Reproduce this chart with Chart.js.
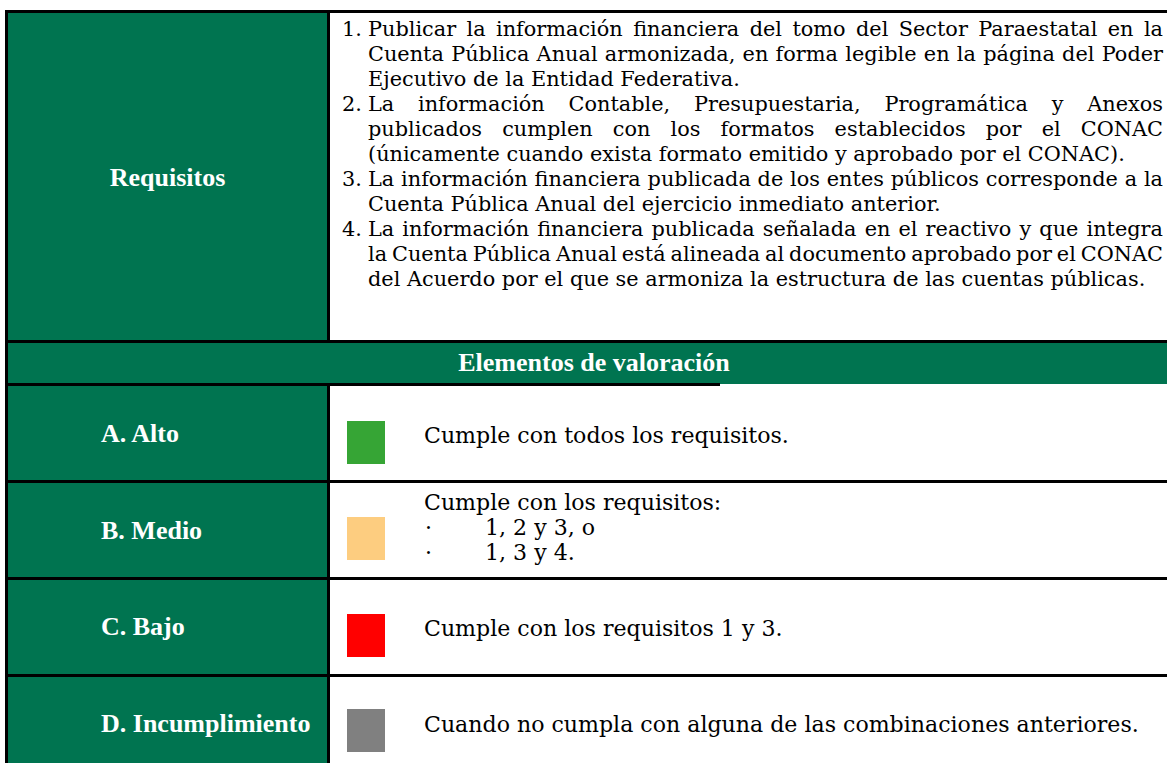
<!DOCTYPE html>
<html>
<head>
<meta charset="utf-8">
<script src="https://cdn.jsdelivr.net/npm/chart.js@4.4.0/dist/chart.umd.min.js"></script>
<style>
html,body{margin:0;padding:0;background:#fff;width:1167px;height:763px;overflow:hidden;position:relative;}
.blk{position:absolute;background:#000;}
.grn{position:absolute;background:#007450;}
.lbl{position:absolute;font-family:"Liberation Serif","Times New Roman",serif;font-weight:bold;font-size:26px;line-height:26px;color:#fff;white-space:nowrap;}
.txt{position:absolute;font-family:"DejaVu Serif",serif;color:#000;white-space:nowrap;}
canvas{position:absolute;}
</style>
</head>
<body>
<script>
// ---------------- DATA ----------------
const headerLabel = 'Requisitos';
const sectionLabel = 'Elementos de valoración';
const reqNumbers = ['1.', '2.', '3.', '4.'];
const reqLines = [
  ['Publicar la información financiera del tomo del Sector Paraestatal en la',
   'Cuenta Pública Anual armonizada, en forma legible en la página del Poder',
   'Ejecutivo de la Entidad Federativa.'],
  ['La información Contable, Presupuestaria, Programática y Anexos',
   'publicados cumplen con los formatos establecidos por el CONAC',
   '(únicamente cuando exista formato emitido y aprobado por el CONAC).'],
  ['La información financiera publicada de los entes públicos corresponde a la',
   'Cuenta Pública Anual del ejercicio inmediato anterior.'],
  ['La información financiera publicada señalada en el reactivo y que integra',
   'la Cuenta Pública Anual está alineada al documento aprobado por el CONAC',
   'del Acuerdo por el que se armoniza la estructura de las cuentas públicas.']
];
const levelLabels = ['A. Alto', 'B. Medio', 'C. Bajo', 'D. Incumplimiento'];
const levelColors = ['#36a535', '#fdcd80', '#ff0000', '#808080'];
const levelValues = [1, 1, 1, 1];
const levelIntro = ['Cumple con todos los requisitos.', 'Cumple con los requisitos:', 'Cumple con los requisitos 1 y 3.', 'Cuando no cumpla con alguna de las combinaciones anteriores.'];
const levelBullets = [[], ['1, 2 y 3, o', '1, 3 y 4.'], [], []];

// ---------------- LAYOUT ----------------
const body = document.body;
function box(cls, l, t, w, h) {
  const d = document.createElement('div');
  d.className = cls;
  d.style.left = l + 'px'; d.style.top = t + 'px';
  d.style.width = w + 'px'; d.style.height = h + 'px';
  body.appendChild(d);
  return d;
}
// font metrics (ascent, descent) as fraction of em
const MET = {lbl: [0.891, 0.216], txt: [0.928, 0.236]};
function text(cls, str, x, baseline, size, lh, opts) {
  const d = document.createElement('div');
  d.className = cls;
  d.textContent = str;
  d.style.fontSize = size + 'px';
  d.style.lineHeight = lh + 'px';
  const m = MET[cls];
  const off = (lh - (m[0] + m[1]) * size) / 2 + m[0] * size;
  d.style.top = (baseline - off) + 'px';
  d.style.left = x + 'px';
  if (opts && opts.center) { d.style.width = opts.width + 'px'; d.style.textAlign = 'center'; }
  body.appendChild(d);
  return d;
}

// fit body font size so that a reference line gets its measured width
const probe = document.createElement('span');
probe.className = 'txt';
probe.style.fontSize = '20px';
probe.style.visibility = 'hidden';
probe.textContent = reqLines[0][2];
body.appendChild(probe);
const FS = Math.min(22, 20 * 372 / probe.getBoundingClientRect().width);
probe.remove();
const FS2 = FS * 1.06;

const FULLW = 1200;
const rowTops = [386, 483, 580, 677];
const rowBots = [480, 577, 674, 763];
const baseA = [443, 510, 636.5, 732];

// green cells
box('grn', 8, 13, 319, 327);
box('grn', 8, 343, FULLW, 41);
rowTops.forEach((t, i) => box('grn', 8, t, 319, rowBots[i] - t));

// black lines
box('blk', 5, 10, FULLW, 3);
box('blk', 5, 10, 3, 760);
box('blk', 327, 13, 3, 327);
box('blk', 327, 384, 3, 380);
box('blk', 5, 340, FULLW, 3);
box('blk', 5, 383, 715, 3);
box('blk', 5, 480, FULLW, 3);
box('blk', 5, 577, FULLW, 3);
box('blk', 5, 674, FULLW, 3);

// header labels
text('lbl', headerLabel, 8, 187, 26, 26, {center: true, width: 319});
text('lbl', sectionLabel, 5, 372, 26, 26, {center: true, width: 1178});
levelLabels.forEach((s, i) => text('lbl', s, 101, [443, 540, 636, 732.5][i], 26, 26));

// requirement list
const TXT_L = 368, TXT_R = 1163;
let bl = 36.7;
const justify = [];
reqLines.forEach((lines, i) => {
  text('txt', reqNumbers[i], 342, bl, FS, 25);
  lines.forEach((ln, j) => {
    const d = text('txt', ln, TXT_L, bl, FS, 25);
    if (j < lines.length - 1) justify.push(d);
    bl += 25;
  });
});
justify.forEach(d => {
  const w = d.getBoundingClientRect().width;
  const n = (d.textContent.match(/ /g) || []).length;
  if (n > 0) d.style.wordSpacing = ((TXT_R - TXT_L - w) / n) + 'px';
});

// valuation texts
levelIntro.forEach((s, i) => {
  text('txt', s, 424, baseA[i], FS2, 25);
  levelBullets[i].forEach((b, k) => {
    text('txt', '·', 425, baseA[i] + 25 * (k + 1), FS2, 25);
    text('txt', b, 485, baseA[i] + 25 * (k + 1), FS2, 25);
  });
});

// colour squares drawn with Chart.js
levelLabels.forEach((lab, i) => {
  const c = document.createElement('canvas');
  c.width = 38; c.height = 43;
  c.style.left = '347px';
  c.style.top = [421, 517, 614, 709][i] + 'px';
  c.style.width = '38px'; c.style.height = '43px';
  body.appendChild(c);
  new Chart(c, {
    type: 'bar',
    data: {
      labels: [lab],
      datasets: [{
        data: [levelValues[i]],
        backgroundColor: levelColors[i],
        borderWidth: 0,
        barPercentage: 1,
        categoryPercentage: 1
      }]
    },
    options: {
      responsive: false,
      animation: false,
      events: [],
      layout: {padding: 0},
      scales: {
        x: {display: false},
        y: {display: false, min: 0, max: 1}
      },
      plugins: {legend: {display: false}, tooltip: {enabled: false}}
    }
  });
});
</script>
</body>
</html>
